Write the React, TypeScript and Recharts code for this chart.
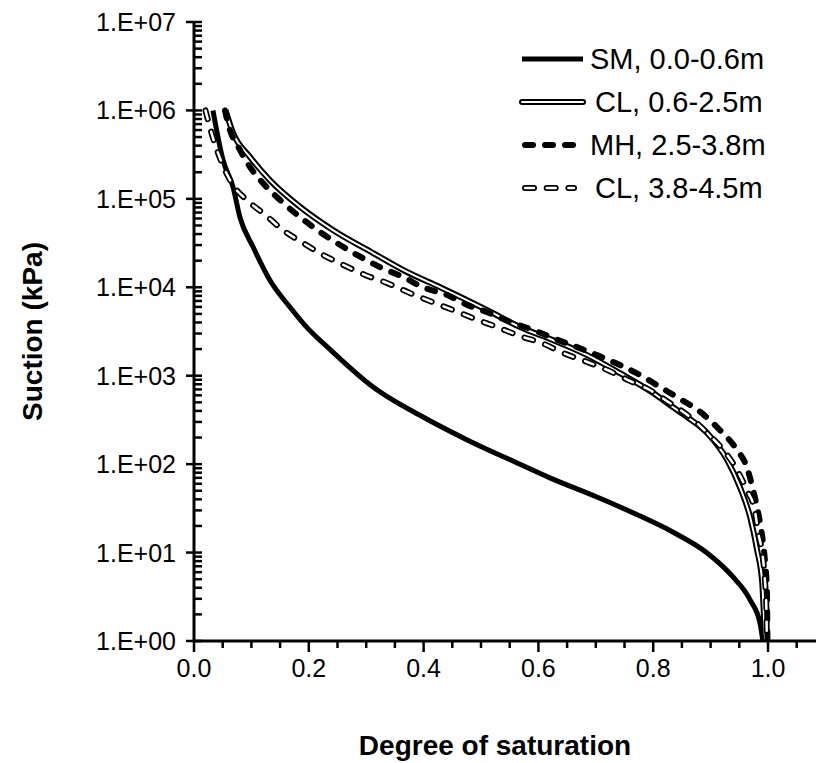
import { Label, Legend, Line, LineChart, XAxis, YAxis } from 'recharts'

// degree of saturation (Sr) and suction (kPa)
const smSr = [0.033, 0.0505, 0.068, 0.08, 0.103, 0.132, 0.167, 0.193, 0.242, 0.312, 0.399, 0.476, 0.563, 0.62, 0.702, 0.777, 0.834, 0.894, 0.939, 0.969, 0.986, 0.991]
const smSuction = [1.0e6, 2.75e5, 1.36e5, 6.2e4, 2.85e4, 1.21e4, 5980, 3740, 1850, 745, 341, 188, 103, 70, 42.5, 25.9, 17.1, 9.9, 5.3, 2.9, 1.6, 1.0]

const cl1Sr = [0.055, 0.068, 0.0976, 0.132, 0.185, 0.242, 0.312, 0.371, 0.429, 0.51, 0.568, 0.625, 0.685, 0.742, 0.8, 0.834, 0.859, 0.894, 0.929, 0.951, 0.969, 0.981, 0.99, 0.993, 0.995]
const cl1Suction = [1e6, 5.56e5, 2.97e5, 1.63e5, 8.1e4, 4.44e4, 2.44e4, 1.49e4, 1.0e4, 5540, 3550, 2530, 1710, 1070, 637, 443, 341, 225, 111, 55, 25, 10.7, 4.5, 1.87, 1.0]

const mhSr = [0.054, 0.059, 0.08, 0.0976, 0.12, 0.15, 0.185, 0.22, 0.249, 0.284, 0.324, 0.364, 0.399, 0.441, 0.476, 0.51, 0.551, 0.591, 0.625, 0.667, 0.702, 0.742, 0.777, 0.812, 0.847, 0.882, 0.916, 0.946, 0.963, 0.974, 0.983, 0.99, 0.995, 0.998, 0.999]
const mhSuction = [1e6, 7.2e5, 3.57e5, 2.29e5, 1.51e5, 9.7e4, 6.2e4, 4.2e4, 3.17e4, 2.32e4, 1.69e4, 1.31e4, 1.0e4, 8180, 6310, 5250, 4050, 3290, 2670, 2110, 1710, 1320, 1020, 745, 545, 389, 243, 145, 93, 51, 28, 15, 7.6, 3.8, 1.0]

const cl2Sr = [0.02, 0.0326, 0.0465, 0.068, 0.092, 0.124, 0.155, 0.19, 0.225, 0.26, 0.298, 0.336, 0.376, 0.415, 0.451, 0.49, 0.528, 0.568, 0.606, 0.643, 0.685, 0.72, 0.756, 0.794, 0.829, 0.864, 0.894, 0.922, 0.946, 0.963, 0.977, 0.983, 0.991, 0.995, 0.997, 0.998]
const cl2Suction = [1e6, 5.0e5, 2.75e5, 1.43e5, 9.7e4, 6.6e4, 4.44e4, 3.17e4, 2.32e4, 1.79e4, 1.38e4, 1.12e4, 8620, 6820, 5540, 4380, 3550, 2810, 2340, 1810, 1430, 1160, 894, 689, 491, 341, 225, 145, 86, 51, 30, 16.6, 8.9, 4.5, 2.55, 1.0]

const seriesNames = ['SM, 0.0-0.6m', 'CL, 0.6-2.5m', 'MH, 2.5-3.8m', 'CL, 3.8-4.5m']

const xMajorTicks = [0, 0.2, 0.4, 0.6, 0.8, 1.0]
const xTickLabels = ['0.0', '0.2', '0.4', '0.6', '0.8', '1.0']
const xAllTicks = [0, 0.05, 0.1, 0.15, 0.2, 0.25, 0.3, 0.35, 0.4, 0.45, 0.5, 0.55, 0.6, 0.65, 0.7, 0.75, 0.8, 0.85, 0.9, 0.95, 1.0, 1.05]

const yMajorTicks = [1, 10, 100, 1000, 1e4, 1e5, 1e6, 1e7]
const yTickLabels = ['1.E+00', '1.E+01', '1.E+02', '1.E+03', '1.E+04', '1.E+05', '1.E+06', '1.E+07']
const yMinorSteps = [2, 3, 4, 5, 6, 7, 8, 9]
const yAllTicks = yMajorTicks.flatMap((d, i) =>
  i < yMajorTicks.length - 1 ? [d, ...yMinorSteps.map((m) => d * m)] : [d],
)

const zip = (sr: number[], s: number[]) => sr.map((v, i) => ({ sr: v, s: s[i] }))
const smData = zip(smSr, smSuction)
const cl1Data = zip(cl1Sr, cl1Suction)
const mhData = zip(mhSr, mhSuction)
const cl2Data = zip(cl2Sr, cl2Suction)

const FONT = '"Liberation Sans", Arial, sans-serif'

function XTick({ x, y, payload }: any) {
  const idx = xMajorTicks.findIndex((t) => Math.abs(t - payload.value) < 1e-6)
  const major = idx >= 0
  return (
    <g>
      <line x1={x} x2={x} y1={y} y2={y + (major ? 11 : 7)} stroke="#000" strokeWidth={2.5} />
      {major && (
        <text x={x} y={y + 36} textAnchor="middle" fontSize={25} fontFamily={FONT} fill="#000">
          {xTickLabels[idx]}
        </text>
      )}
    </g>
  )
}

function YTick({ x, y, payload }: any) {
  const idx = yMajorTicks.findIndex((t) => Math.abs(t - payload.value) < 1e-9 * t)
  const major = idx >= 0
  return (
    <g>
      <line x1={major ? x - 8 : x} x2={x + 8} y1={y} y2={y} stroke="#000" strokeWidth={2.5} />
      {major && (
        <text x={x - 18} y={y + 9} textAnchor="end" fontSize={25} fontFamily={FONT} fill="#000">
          {yTickLabels[idx]}
        </text>
      )}
    </g>
  )
}

function LegendBox() {
  const rowY = [23, 66, 109, 152]
  const textX = [90, 95, 90, 95]
  return (
    <svg width={300} height={190}>
      <line x1={22} x2={83} y1={rowY[0]} y2={rowY[0]} stroke="#000" strokeWidth={5} />
      <line x1={22} x2={83} y1={rowY[1]} y2={rowY[1]} stroke="#000" strokeWidth={6} strokeLinecap="round" />
      <line x1={22} x2={83} y1={rowY[1]} y2={rowY[1]} stroke="#fff" strokeWidth={2} strokeLinecap="round" />
      <line x1={25} x2={74} y1={rowY[2]} y2={rowY[2]} stroke="#000" strokeWidth={6} strokeLinecap="round" strokeDasharray="8 12" />
      <line x1={25} x2={74} y1={rowY[3]} y2={rowY[3]} stroke="#000" strokeWidth={6} strokeLinecap="round" strokeDasharray="9 12.7" />
      <line x1={25} x2={74} y1={rowY[3]} y2={rowY[3]} stroke="#fff" strokeWidth={2.5} strokeLinecap="round" strokeDasharray="9 12.7" />
      {seriesNames.map((n, i) => (
        <text key={n} x={textX[i]} y={rowY[i]} dominantBaseline="central" fontSize={29} fontFamily={FONT} fill="#000">
          {n}
        </text>
      ))}
    </svg>
  )
}

export default function App() {
  return (
    <div style={{ position: 'absolute', left: 0, top: 0, width: 816, height: 763, background: '#fff' }}>
      <LineChart width={816} height={763} margin={{ top: 22, right: 0, bottom: 0, left: 0 }}>
        <XAxis
          xAxisId="top"
          orientation="top"
          type="number"
          domain={[0, 1.0836]}
          height={0}
          tick={false}
          tickLine={false}
          axisLine={{ stroke: '#000', strokeWidth: 3 }}
        />
        <XAxis
          type="number"
          dataKey="sr"
          domain={[0, 1.0836]}
          allowDataOverflow
          ticks={xAllTicks}
          interval={0}
          height={122}
          tickSize={0}
          tickMargin={0}
          tickLine={false}
          tick={<XTick />}
          axisLine={{ stroke: '#000', strokeWidth: 3 }}
        >
          <Label
            value="Degree of saturation"
            position="insideBottom"
            offset={8}
            dx={-10}
            style={{ fontWeight: 'bold', fontSize: 28, fill: '#000', fontFamily: FONT }}
          />
        </XAxis>
        <YAxis
          type="number"
          scale="log"
          domain={[1, 1e7]}
          allowDataOverflow
          ticks={yAllTicks}
          interval={0}
          width={194}
          tickSize={0}
          tickMargin={0}
          tickLine={false}
          tick={<YTick />}
          axisLine={{ stroke: '#000', strokeWidth: 3 }}
        >
          <Label
            value="Suction (kPa)"
            angle={-90}
            position="insideLeft"
            offset={32}
            style={{ fontWeight: 'bold', fontSize: 28, fill: '#000', fontFamily: FONT, textAnchor: 'middle' }}
          />
        </YAxis>
        <Legend
          layout="vertical"
          align="center"
          verticalAlign="middle"
          content={() => <LegendBox />}
          wrapperStyle={{ position: 'absolute', left: 500, top: 36, width: 300 }}
        />
        <Line data={smData} dataKey="s" type="monotone" stroke="#000" strokeWidth={5} dot={false} activeDot={false} isAnimationActive={false} />
        <Line data={cl1Data} dataKey="s" type="monotone" stroke="#000" strokeWidth={6} dot={false} activeDot={false} isAnimationActive={false} />
        <Line data={cl1Data} dataKey="s" type="monotone" stroke="#fff" strokeWidth={2} dot={false} activeDot={false} isAnimationActive={false} />
        <Line data={mhData} dataKey="s" type="monotone" stroke="#000" strokeWidth={6} strokeDasharray="8 12" strokeLinecap="round" dot={false} activeDot={false} isAnimationActive={false} />
        <Line data={cl2Data} dataKey="s" type="monotone" stroke="#000" strokeWidth={6} strokeDasharray="9 12.7" strokeLinecap="round" dot={false} activeDot={false} isAnimationActive={false} />
        <Line data={cl2Data} dataKey="s" type="monotone" stroke="#fff" strokeWidth={2.5} strokeDasharray="9 12.7" strokeLinecap="round" dot={false} activeDot={false} isAnimationActive={false} />
      </LineChart>
    </div>
  )
}
